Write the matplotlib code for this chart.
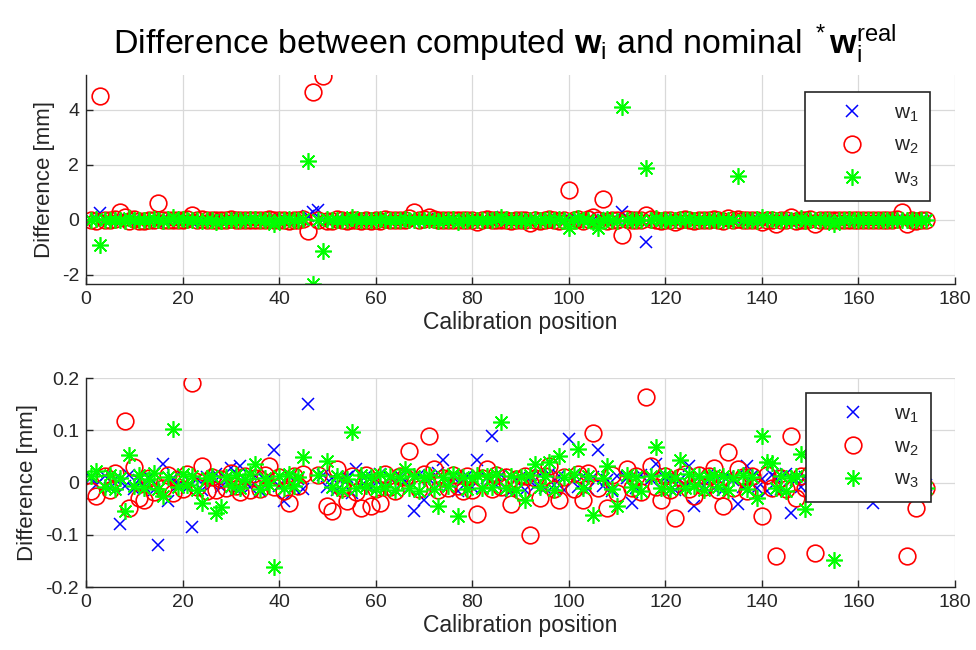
import numpy as np
import matplotlib
matplotlib.use("Agg")
import matplotlib.pyplot as plt

plt.rcParams['font.family'] = ['Liberation Sans', 'DejaVu Sans']
plt.rcParams['mathtext.fontset'] = 'custom'
plt.rcParams['mathtext.rm'] = 'Liberation Sans'
plt.rcParams['mathtext.it'] = 'Liberation Sans'
plt.rcParams['mathtext.bf'] = 'Liberation Sans:bold'

# calibration positions 1..174
posiciones = list(range(1, 175))

# differences for w1 (blue x) [mm]
w1 = [0.008, -0.004, 0.25, 0.012, -0.01, 0.006, -0.08, -0.006, 0.015, -0.012,
      0.004, -0.007, 0.01, -0.015, -0.119, 0.035, -0.036, 0.009, -0.005, 0.014,
      -0.01, -0.085, 0.006, -0.014, 0.011, -0.003, 0.016, -0.009, 0.007, 0.028,
      -0.012, 0.031, 0.005, -0.008, 0.013, -0.016, 0.004, 0.01, 0.062, -0.006,
      -0.036, 0.012, -0.01, 0.007, -0.013, 0.15, 0.30, 0.36, 0.015, -0.008,
      0.009, -0.014, 0.006, 0.011, -0.02, 0.025, -0.007, 0.013, -0.011, 0.004,
      0.016, -0.009, 0.008, -0.015, 0.012, 0.003, -0.01, -0.055, 0.014, -0.033,
      0.007, -0.012, 0.018, 0.044, -0.006, 0.01, -0.016, 0.005, 0.013, -0.008,
      0.044, -0.011, 0.009, 0.09, -0.004, 0.015, -0.013, -0.017, 0.006, 0.011,
      -0.015, 0.008, -0.006, 0.014, -0.01, 0.017, -0.005, 0.012, -0.014, 0.084,
      0.007, -0.009, 0.013, -0.012, 0.01, 0.063, -0.007, 0.004, -0.016, 0.012,
      0.30, 0.009, -0.04, -0.011, 0.015, -0.82, 0.006, 0.035, -0.013, 0.008,
      0.011, -0.015, 0.005, -0.009, 0.031, -0.045, 0.013, -0.006, 0.016, -0.011,
      0.007, -0.014, 0.01, 0.004, -0.042, -0.008, 0.031, 0.012, -0.01, 0.006,
      -0.016, 0.014, 0.008, -0.012, 0.017, -0.058, 0.005, -0.009, 0.011, -0.006,
      0.013, -0.014, 0.009, 0.004, -0.011, 0.015, -0.007, 0.01, -0.013, 0.006,
      0.012, -0.01, -0.039, 0.008, -0.005, 0.014, -0.012, 0.007, 0.01, -0.008,
      0.011, -0.006, 0.009, -0.004]

# differences for w2 (red o) [mm]
w2 = [-0.017, -0.026, 4.5, 0.012, -0.014, 0.018, 0.28, 0.117, -0.049, 0.03,
      -0.03, -0.033, 0.008, -0.018, 0.6, -0.01, 0.014, -0.021, 0.006, -0.012,
      0.016, 0.19, -0.008, 0.031, -0.017, 0.01, -0.015, 0.007, -0.011, 0.019,
      -0.006, -0.019, 0.013, -0.014, 0.009, -0.012, 0.015, 0.031, -0.009, 0.011,
      -0.016, -0.039, 0.012, -0.007, 0.017, -0.42, 4.67, 0.014, 5.24, -0.045,
      -0.055, 0.025, -0.01, -0.036, 0.012, -0.018, -0.049, 0.015, -0.045, -0.013,
      -0.039, 0.017, -0.008, -0.016, 0.013, 0.011, 0.06, 0.30, -0.012, 0.016,
      0.09, 0.025, -0.014, 0.008, -0.011, 0.015, -0.007, -0.017, 0.012, -0.015,
      -0.06, 0.009, 0.025, -0.012, 0.014, -0.008, 0.011, -0.042, 0.006, -0.016,
      0.013, -0.101, 0.008, -0.029, 0.012, 0.031, -0.013, -0.033, 0.01, 1.07,
      -0.012, 0.016, -0.033, 0.019, 0.095, -0.01, 0.75, -0.049, 0.014, -0.02,
      -0.55, 0.025, -0.011, 0.012, -0.019, 0.163, 0.031, -0.009, -0.034, 0.013,
      -0.015, -0.068, 0.01, 0.016, -0.012, -0.026, 0.014, -0.009, 0.012, 0.028,
      -0.014, -0.045, 0.058, -0.01, 0.026, 0.011, -0.016, 0.013, -0.008, -0.065,
      0.015, -0.011, -0.14, 0.009, -0.013, 0.089, -0.029, 0.012, -0.01, 0.016,
      -0.134, 0.011, -0.014, 0.008, -0.012, 0.015, -0.009, 0.013, -0.016, 0.01,
      -0.011, 0.014, -0.008, 0.012, -0.015, 0.009, -0.012, 0.016, 0.30, -0.14,
      0.011, -0.049, 0.008, -0.01]

# differences for w3 (green *) [mm]
w3 = [0.012, 0.022, -0.91, -0.008, 0.015, -0.012, 0.009, -0.055, 0.052, -0.006,
      0.014, -0.01, 0.007, 0.018, -0.013, -0.026, 0.011, 0.103, -0.009, 0.016,
      -0.005, 0.012, -0.014, -0.039, 0.008, 0.013, -0.058, -0.047, 0.01, -0.007,
      0.015, -0.011, 0.006, 0.017, 0.035, -0.012, 0.009, -0.004, -0.162, 0.013,
      -0.01, 0.016, -0.006, 0.011, 0.049, 2.16, -2.33, 0.014, -1.12, 0.041,
      -0.009, 0.012, -0.015, 0.007, 0.096, -0.011, 0.015, -0.006, 0.01, -0.013,
      0.016, -0.008, 0.012, -0.014, 0.009, 0.025, -0.01, 0.013, -0.016, 0.008,
      0.014, -0.012, -0.045, 0.01, -0.007, 0.016, -0.065, 0.011, -0.013, 0.009,
      0.015, -0.01, 0.012, -0.008, 0.017, 0.115, -0.011, 0.013, -0.014, 0.01,
      -0.033, 0.014, 0.035, -0.009, 0.012, 0.04, -0.015, 0.05, 0.011, -0.3,
      0.016, 0.065, -0.01, 0.013, -0.063, -0.3, 0.009, 0.031, -0.012, -0.045,
      4.12, 0.014, -0.008, 0.011, -0.016, 1.88, 0.012, 0.068, -0.01, 0.015,
      -0.013, 0.009, 0.044, -0.011, 0.016, -0.007, 0.013, -0.015, 0.01, 0.014,
      -0.009, 0.012, -0.014, 0.008, 1.58, 0.015, -0.012, 0.011, -0.029, 0.089,
      0.04, 0.038, -0.01, 0.013, -0.016, 0.009, 0.012, 0.054, -0.05, 0.015,
      -0.011, 0.014, -0.008, 0.01, -0.148, 0.013, -0.012, 0.016, -0.009, 0.011,
      -0.014, 0.012, 0.008, -0.01, 0.015, -0.013, 0.011, -0.007, 0.014, -0.012,
      0.01, -0.009, 0.013, -0.01]

etiquetas = [r'w$_\mathrm{1}$', r'w$_\mathrm{2}$', r'w$_\mathrm{3}$']

fig = plt.figure(figsize=(9.76, 6.5), dpi=100)
ax1 = fig.add_axes([0.0881, 0.5631, 0.8904, 0.3215])
ax2 = fig.add_axes([0.0881, 0.0969, 0.8904, 0.3215])

asterisco = (8, 2, 0)

for ax in (ax1, ax2):
    ax.plot(posiciones, w1, linestyle='none', marker='x', color=(0, 0, 1),
            ms=9, mew=1.1, label=etiquetas[0])
    ax.plot(posiciones, w2, linestyle='none', marker='o', color=(1, 0, 0),
            mfc='none', ms=12, mew=1.2, label=etiquetas[1])
    ax.plot(posiciones, w3, linestyle='none', marker=asterisco, color=(0, 1, 0),
            ms=12, mew=1.2, label=etiquetas[2])
    ax.set_xlim(0, 180)
    ax.set_xticks(range(0, 181, 20))
    ax.grid(True, color='#d9d9d9', linewidth=0.9)
    ax.set_axisbelow(True)
    for s in ('top', 'right'):
        ax.spines[s].set_visible(False)
    for s in ('left', 'bottom'):
        ax.spines[s].set_color('#262626')
        ax.spines[s].set_linewidth(1.0)
    ax.tick_params(direction='in', length=5, width=1.0, colors='#262626',
                   labelsize=14, labelcolor='#262626', pad=5)
    ax.set_xlabel('Calibration position', fontsize=16.5, color='#262626', labelpad=2)
    ax.set_ylabel('Difference [mm]', fontsize=16, color='#262626', labelpad=5)

todo = w1 + w2 + w3
ax1.set_ylim(min(todo), max(todo) + 0.03)
ax1.set_yticks([-2, 0, 2, 4])
ax1.set_yticklabels(['-2', '0', '2', '4'])
ax2.set_ylim(-0.2, 0.2)
ax2.set_yticks([-0.2, -0.1, 0, 0.1, 0.2])
ax2.set_yticklabels(['-0.2', '-0.1', '0', '0.1', '0.2'])

for ax, anc in ((ax1, (0.971, 0.919)), (ax2, (0.972, 0.928))):
    leg = ax.legend(loc='upper right', bbox_to_anchor=anc, fontsize=15,
                    frameon=True, fancybox=False, framealpha=1,
                    edgecolor='#262626', borderpad=0.55, labelspacing=0.6,
                    handlelength=3.4, handletextpad=0.3, borderaxespad=0)
    leg.get_frame().set_linewidth(1.2)
    for t in leg.get_texts():
        t.set_color('#262626')

ax1.set_title(r'Difference between computed $\mathbf{w}_\mathrm{i}$ and nominal '
              r'$^*\mathbf{w}_\mathrm{i}^\mathrm{real}$', fontsize=24.5, pad=15, x=0.482)

fig.savefig('out.png', dpi=100)
